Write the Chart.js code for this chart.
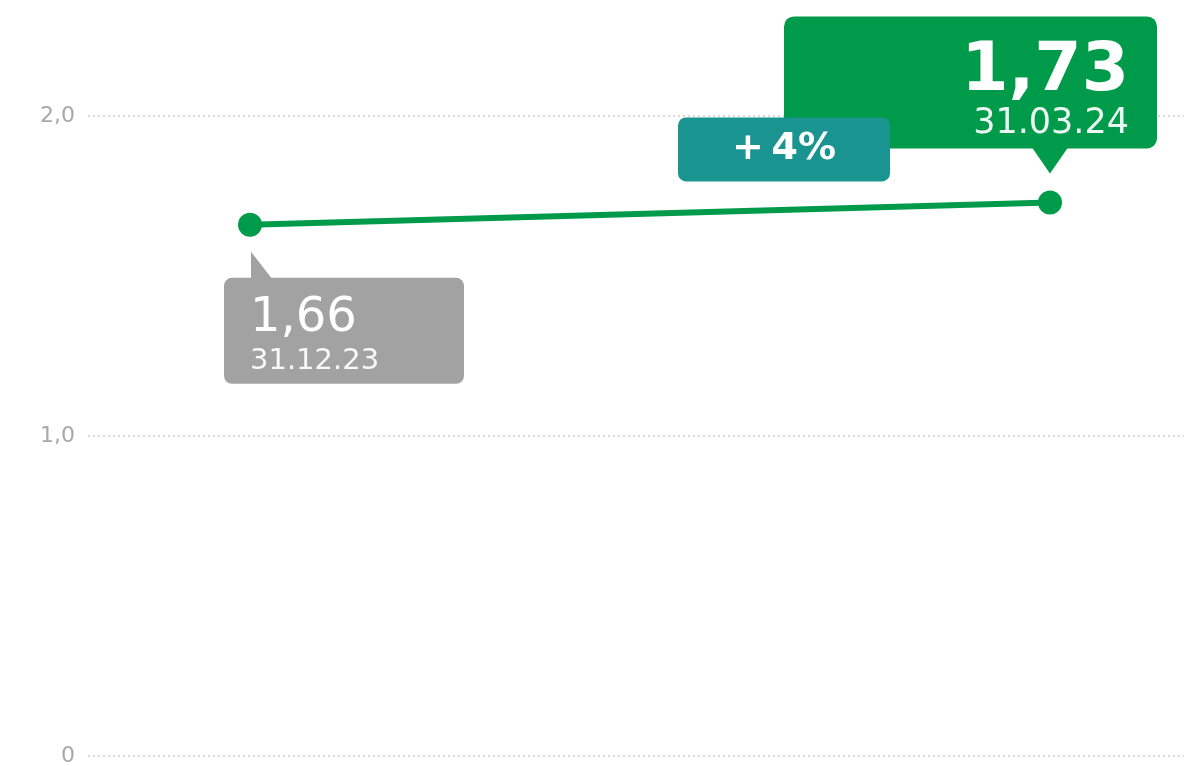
<!DOCTYPE html>
<html>
<head>
<meta charset="utf-8">
<script src="https://cdn.jsdelivr.net/npm/chart.js@4"></script>
<style>
  html, body { margin: 0; padding: 0; background: #fff; }
  #wrap { width: 1184px; height: 766px; }
</style>
</head>
<body>
<div id="wrap"><canvas id="chart"></canvas></div>
<script>
const dates = ['31.12.23', '31.03.24'];
const values = [1.66, 1.73];
const valueLabels = ['1,66', '1,73'];
const changeLabel = '+\u20094%';
const yTicks = [0, 1, 2];
const yTickLabels = ['0', '1,0', '2,0'];

const green = '#009b4a';
const grey = '#a2a2a2';
const teal = '#1a9490';
const font = 'DejaVu Sans';

function roundBox(ctx, x, y, w, h, r, color) {
    ctx.fillStyle = color;
    ctx.beginPath();
    ctx.roundRect(x, y, w, h, r);
    ctx.fill();
}

const callouts = {
    id: 'callouts',
    afterDatasetsDraw(chart) {
        const ctx = chart.ctx;
        const pts = chart.getDatasetMeta(0).data;
        const a = pts[0], b = pts[1];
        ctx.save();

        // first value, grey box below the point
        roundBox(ctx, a.x - 26, a.y + 53, 240, 106, 8, grey);
        ctx.beginPath();
        ctx.moveTo(a.x + 1, a.y + 27);
        ctx.lineTo(a.x + 1, a.y + 54);
        ctx.lineTo(a.x + 22, a.y + 54);
        ctx.closePath();
        ctx.fill();
        ctx.fillStyle = '#fff';
        ctx.textAlign = 'left';
        ctx.textBaseline = 'alphabetic';
        ctx.font = '48px ' + font;
        ctx.fillText(valueLabels[0], a.x, a.y + 106);
        ctx.fillStyle = 'rgba(255,255,255,0.92)';
        ctx.font = '29px ' + font;
        ctx.fillText(dates[0], a.x, a.y + 144);

        // last value, green box above the point
        roundBox(ctx, b.x - 266, b.y - 186, 373, 132, 10, green);
        ctx.beginPath();
        ctx.moveTo(b.x - 18, b.y - 55);
        ctx.lineTo(b.x + 18, b.y - 55);
        ctx.lineTo(b.x, b.y - 29);
        ctx.closePath();
        ctx.fill();
        ctx.fillStyle = '#fff';
        ctx.textAlign = 'right';
        ctx.font = 'bold 68px ' + font;
        ctx.fillText(valueLabels[1], b.x + 79, b.y - 112);
        ctx.fillStyle = 'rgba(255,255,255,0.92)';
        ctx.font = '35px ' + font;
        ctx.fillText(dates[1], b.x + 79, b.y - 69);

        // change badge
        roundBox(ctx, b.x - 372, b.y - 85, 212, 64, 8, teal);
        ctx.fillStyle = '#fff';
        ctx.textAlign = 'center';
        ctx.textBaseline = 'middle';
        ctx.font = 'bold 38px ' + font;
        ctx.fillText(changeLabel, b.x - 266, b.y - 53);

        ctx.restore();
    }
};

new Chart(document.getElementById('chart'), {
    type: 'line',
    data: {
        labels: dates,
        datasets: [{
            data: values.map((v, i) => ({ x: i, y: v })),
            borderColor: green,
            backgroundColor: green,
            borderWidth: 6,
            pointRadius: 12,
            pointBorderWidth: 0,
            pointBackgroundColor: green,
            tension: 0
        }]
    },
    options: {
        responsive: true,
        maintainAspectRatio: false,
        animation: false,
        layout: { autoPadding: false, padding: { top: 0, right: 0, bottom: 10, left: 0 } },
        plugins: {
            legend: { display: false },
            tooltip: { enabled: false }
        },
        scales: {
            x: {
                type: 'linear',
                display: false,
                min: -0.2025,
                max: 1.1675
            },
            y: {
                min: 0,
                max: 2.3625,
                afterBuildTicks: s => { s.ticks = yTicks.map(v => ({ value: v })); },
                afterFit: s => { s.width = 88; s.paddingTop = 0; s.paddingBottom = 0; },
                grid: {
                    color: '#d9d9d9',
                    lineWidth: 2,
                    drawTicks: false
                },
                border: { display: false, dash: [2, 3] },
                ticks: {
                    padding: 13,
                    color: '#a8a8a8',
                    font: { family: font, size: 22 },
                    callback: (v) => yTickLabels[yTicks.indexOf(v)]
                }
            }
        }
    },
    plugins: [callouts]
});
</script>
</body>
</html>
